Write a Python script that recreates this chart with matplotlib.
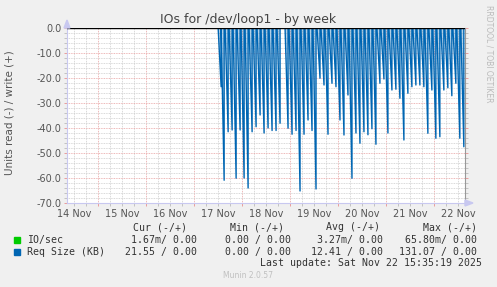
import numpy as np
import pandas as pd
import matplotlib
matplotlib.use("Agg")
import matplotlib.pyplot as plt
import matplotlib.dates as mdates
from matplotlib.patches import Rectangle

# Dados (picos de Req Size lido, em KB, negativos)
primeiro_pico = "2025-11-17 13:30"
valor_primeiro_pico = -23.5
inicio_picos = "2025-11-17 15:00"  # depois disso um pico a cada 2 horas
req_size_read = [
    -60.9, -41.5, -40.8, -60.1, -40.8, -60.0, -64.0, -41.5, -39.5, -34.8,
    -42.0, -40.0, -41.0, -41.0, -38.1, None, -40.1, -42.5, -41.0, -65.2,
    -42.5, -36.8, -41.0, -64.4, -20.1, -22.8, -42.5, -22.1, -23.5, -36.8,
    -42.8, -26.8, -60.1, -42.0, -46.1, -41.5, -42.7, -40.3, -46.5, -22.1,
    -20.4, -42.0, -24.8, -24.5, -28.1, -44.8, -26.1, -23.5, -22.8, -22.8,
    -23.5, -42.1, -24.8, -44.1, -43.5, -24.8, -23.9, -27.1, -22.1, -44.1,
    -47.5,
]

dias = ["14 Nov", "15 Nov", "16 Nov", "17 Nov", "18 Nov", "19 Nov", "20 Nov", "21 Nov", "22 Nov"]
y_ticks = [0, -10, -20, -30, -40, -50, -60, -70]

cabecalho = ["Cur (-/+)", "Min (-/+)", "Avg (-/+)", "Max (-/+)"]
io_sec = ["1.67m/ 0.00", "0.00 / 0.00", "3.27m/ 0.00", "65.80m/ 0.00"]
req_size = ["21.55 / 0.00", "0.00 / 0.00", "12.41 / 0.00", "131.07 / 0.00"]

inicio = pd.Timestamp("2025-11-14 08:20")
fim = pd.Timestamp("2025-11-22 15:35")

# Junta os picos numa lista (hora, valor)
picos = [(pd.Timestamp(primeiro_pico), valor_primeiro_pico)]
horas_picos = pd.date_range(inicio_picos, periods=len(req_size_read), freq="2h")
for t, v in zip(horas_picos, req_size_read):
    if v is not None:
        picos.append((t, v))

# Cada pico: desce em rampa durante ~1.5h e volta a zero de uma vez (como o rrdtool desenha)
xs, ys = [], []
rampa = pd.Timedelta("90min")
for t, v in picos:
    xs += [t - rampa, t, t]
    ys += [0.0, v, 0.0]

W, H = 497, 287
fig = plt.figure(figsize=(W / 100, H / 100), dpi=100, facecolor="#f0f0f0")
ax = fig.add_axes([67 / W, 1 - 203 / H, (465 - 67) / W, (203 - 28) / H])
ax.set_facecolor("white")

# Grade
ax.xaxis.set_major_locator(mdates.DayLocator())
ax.xaxis.set_minor_locator(mdates.HourLocator(byhour=[0, 6, 12, 18]))
ax.xaxis.set_major_formatter(plt.NullFormatter())
lab_map = {pd.Timestamp("2025-11-%d 12:00" % (14 + i)): d for i, d in enumerate(dias)}


def fmt_x(x, pos):
    t = pd.Timestamp(mdates.num2date(x).replace(tzinfo=None)).round("min")
    return lab_map.get(t, "")


ax.xaxis.set_minor_formatter(plt.FuncFormatter(fmt_x))
ax.set_yticks(y_ticks)
ax.set_yticklabels(["%.1f" % v for v in y_ticks])
ax.set_yticks(np.arange(-70, 1, 2), minor=True)

ax.grid(which="minor", color="#cccccc", linestyle=(0, (1, 1)), linewidth=0.6)
ax.grid(which="major", color="#e8a0a0", linestyle=(0, (1, 1)), linewidth=0.6)
ax.set_axisbelow(True)

ax.tick_params(which="both", length=2, width=0.6, direction="out", labelsize=7, colors="#555555", pad=2)
ax.tick_params(which="major", color="#e89090")
ax.tick_params(which="minor", color="#bbbbbb")
ax.tick_params(axis="y", which="both", right=True)

# Linhas (com um preenchimento claro nas rampas, parecido com o antialias do rrdtool)
ax.fill(xs, ys, color="#0066b3", alpha=0.3, linewidth=0, zorder=2)
ax.plot(xs, ys, color="#0066b3", linewidth=1.0, zorder=3)
ax.axhline(0, color="black", linewidth=1.0, zorder=4)

ax.set_xlim(inicio, fim)
ax.set_ylim(-70, 0)

for lado in ["left", "bottom"]:
    ax.spines[lado].set_color("#c8c8f0")
    ax.spines[lado].set_linewidth(0.8)
ax.spines["top"].set_visible(False)
ax.spines["right"].set_color("#999999")
ax.spines["right"].set_linewidth(0.8)

# Setas dos eixos
fig.patches.append(plt.Polygon([[64 / W, 1 - 28 / H], [70 / W, 1 - 28 / H], [67 / W, 1 - 20 / H]],
                               closed=True, color="#c8c8f0", transform=fig.transFigure))
fig.patches.append(plt.Polygon([[465 / W, 1 - 200 / H], [465 / W, 1 - 206 / H], [473 / W, 1 - 203 / H]],
                               closed=True, color="#c8c8f0", transform=fig.transFigure))

# Textos
fig.text(248 / W, 1 - 20 / H, "IOs for /dev/loop1 - by week", ha="center", va="center",
         fontsize=9, color="#444444")
fig.text(10 / W, 1 - 113 / H, "Units read (-) / write (+)", rotation=90, ha="center", va="center",
         fontsize=7.5, color="#555555")
fig.text(489 / W, 1 - 5 / H, "RRDTOOL / TOBI OETIKER", rotation=270, ha="center", va="top",
         fontsize=5.5, color="#bbbbbb")

mono = dict(family="DejaVu Sans Mono", fontsize=7.1, color="#333333", va="center")
col_x = [196.7, 290.7, 383.3, 476.7]
cab_x = [186.7, 284.0, 380.0, 476.7]
for x, t in zip(cab_x, cabecalho):
    fig.text(x / W, 1 - 227.3 / H, t, ha="right", **mono)
fig.text(26.7 / W, 1 - 239.7 / H, "IO/sec", ha="left", **mono)
fig.text(26.7 / W, 1 - 251.7 / H, "Req Size (KB)", ha="left", **mono)
for x, t in zip(col_x, io_sec):
    fig.text(x / W, 1 - 239.7 / H, t, ha="right", **mono)
for x, t in zip(col_x, req_size):
    fig.text(x / W, 1 - 251.7 / H, t, ha="right", **mono)
fig.patches.append(Rectangle((14 / W, 1 - 242.5 / H), 5.5 / W, 5.5 / H, color="#00cc00",
                             transform=fig.transFigure))
fig.patches.append(Rectangle((14 / W, 1 - 254.5 / H), 5.5 / W, 5.5 / H, color="#0066b3",
                             transform=fig.transFigure))
fig.text(482.3 / W, 1 - 263.3 / H, "Last update: Sat Nov 22 15:35:19 2025", ha="right", **mono)
fig.text(248 / W, 1 - 276 / H, "Munin 2.0.57", ha="center", va="center", fontsize=5.5, color="#c0c0c0")

fig.savefig("out.png", dpi=100, facecolor=fig.get_facecolor())
